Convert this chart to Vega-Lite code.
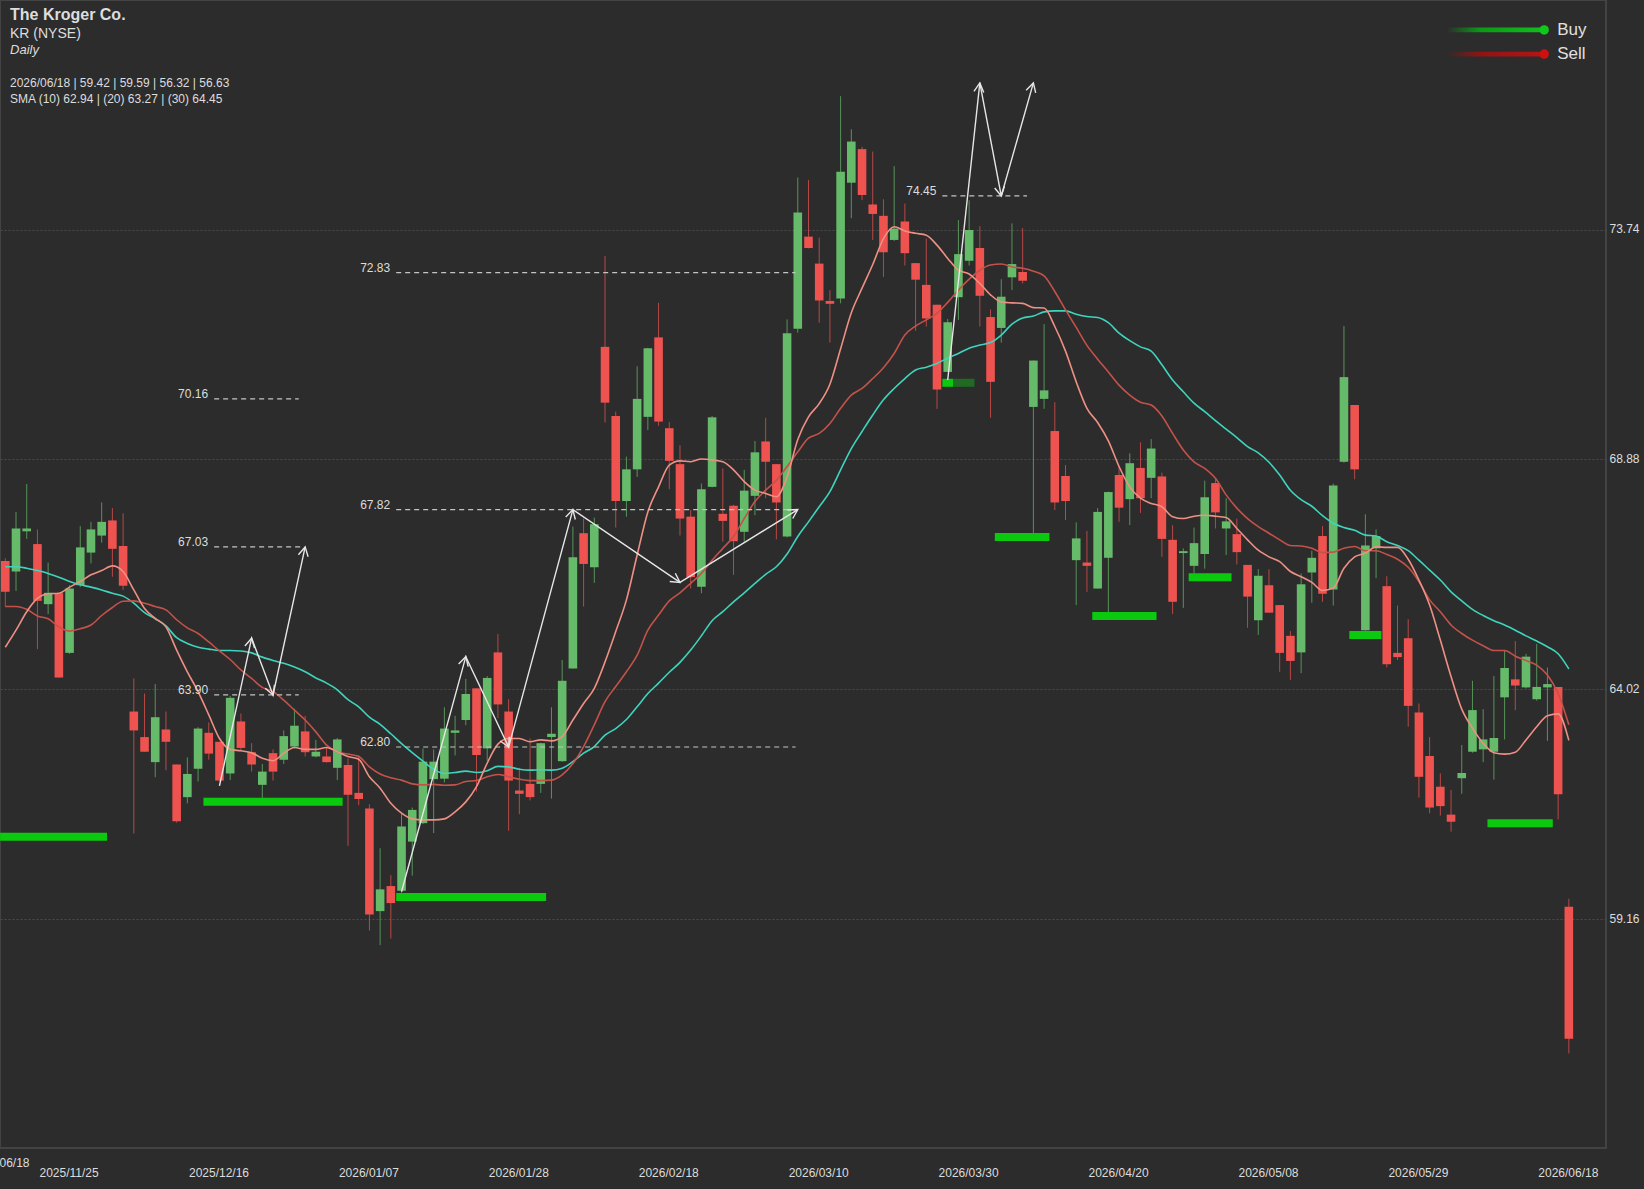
{"$schema":"https://vega.github.io/schema/vega-lite/v6.json","width":1606,"height":1148,"autosize":{"type":"none"},"padding":{"left":0,"top":0,"right":38,"bottom":41},"background":"#2c2c2c","resolve":{"axis":{"x":"independent","y":"independent"}},"config":{"font":"Liberation Sans","view":{"stroke":"#434343","strokeWidth":2},"text":{"font":"Liberation Sans"}},"datasets":{"candles":[
{"i":0,"dir":"down","open":66.73,"high":66.79,"low":65.77,"close":66.08,"sma10":64.91,"sma20":65.77,"sma30":66.61},
{"i":1,"dir":"up","open":66.51,"high":67.77,"low":66.10,"close":67.42,"sma10":65.27,"sma20":65.77,"sma30":66.61},
{"i":2,"dir":"up","open":67.36,"high":68.36,"low":67.20,"close":67.42,"sma10":65.66,"sma20":65.71,"sma30":66.58},
{"i":3,"dir":"down","open":67.09,"high":67.40,"low":64.87,"close":65.89,"sma10":65.94,"sma20":65.57,"sma30":66.53},
{"i":4,"dir":"up","open":65.82,"high":66.70,"low":65.61,"close":66.06,"sma10":66.04,"sma20":65.51,"sma30":66.47},
{"i":5,"dir":"down","open":66.05,"high":66.05,"low":64.27,"close":64.27,"sma10":66.05,"sma20":65.34,"sma30":66.39},
{"i":6,"dir":"up","open":64.79,"high":66.22,"low":64.77,"close":66.15,"sma10":66.18,"sma20":65.25,"sma30":66.30},
{"i":7,"dir":"up","open":66.22,"high":67.47,"low":66.18,"close":67.02,"sma10":66.30,"sma20":65.30,"sma30":66.23},
{"i":8,"dir":"up","open":66.91,"high":67.56,"low":66.68,"close":67.40,"sma10":66.44,"sma20":65.38,"sma30":66.18},
{"i":9,"dir":"up","open":67.27,"high":67.97,"low":67.12,"close":67.56,"sma10":66.53,"sma20":65.58,"sma30":66.12},
{"i":10,"dir":"down","open":67.59,"high":67.85,"low":66.40,"close":66.99,"sma10":66.63,"sma20":65.75,"sma30":66.05},
{"i":11,"dir":"down","open":67.05,"high":67.74,"low":66.12,"close":66.21,"sma10":66.51,"sma20":65.88,"sma30":65.99},
{"i":12,"dir":"down","open":63.55,"high":64.25,"low":60.97,"close":63.15,"sma10":66.12,"sma20":65.89,"sma30":65.84},
{"i":13,"dir":"down","open":63.01,"high":63.93,"low":62.70,"close":62.70,"sma10":65.73,"sma20":65.84,"sma30":65.64},
{"i":14,"dir":"up","open":62.48,"high":64.13,"low":62.16,"close":63.43,"sma10":65.52,"sma20":65.77,"sma30":65.51},
{"i":15,"dir":"down","open":63.17,"high":63.55,"low":62.31,"close":62.91,"sma10":65.34,"sma20":65.70,"sma30":65.36},
{"i":16,"dir":"down","open":62.43,"high":62.43,"low":61.20,"close":61.23,"sma10":64.85,"sma20":65.49,"sma30":65.11},
{"i":17,"dir":"up","open":61.74,"high":62.58,"low":61.61,"close":62.23,"sma10":64.39,"sma20":65.32,"sma30":64.99},
{"i":18,"dir":"up","open":62.34,"high":63.22,"low":62.07,"close":63.19,"sma10":63.97,"sma20":65.20,"sma30":64.91},
{"i":19,"dir":"down","open":63.10,"high":63.32,"low":62.53,"close":62.66,"sma10":63.48,"sma20":65.02,"sma30":64.87},
{"i":20,"dir":"down","open":62.91,"high":62.91,"low":62.07,"close":62.09,"sma10":62.98,"sma20":64.83,"sma30":64.84},
{"i":21,"dir":"up","open":62.24,"high":63.88,"low":62.10,"close":63.84,"sma10":62.75,"sma20":64.65,"sma30":64.84},
{"i":22,"dir":"down","open":63.34,"high":63.51,"low":62.72,"close":62.78,"sma10":62.72,"sma20":64.43,"sma30":64.83},
{"i":23,"dir":"down","open":62.69,"high":62.88,"low":62.28,"close":62.43,"sma10":62.68,"sma20":64.25,"sma30":64.79},
{"i":24,"dir":"up","open":62.00,"high":62.44,"low":61.71,"close":62.28,"sma10":62.56,"sma20":64.06,"sma30":64.70},
{"i":25,"dir":"down","open":62.67,"high":62.75,"low":62.09,"close":62.28,"sma10":62.51,"sma20":63.97,"sma30":64.63},
{"i":26,"dir":"up","open":62.53,"high":63.15,"low":62.44,"close":63.03,"sma10":62.67,"sma20":63.79,"sma30":64.57},
{"i":27,"dir":"up","open":62.81,"high":63.61,"low":62.77,"close":63.25,"sma10":62.79,"sma20":63.58,"sma30":64.49},
{"i":28,"dir":"down","open":63.13,"high":63.46,"low":62.60,"close":62.69,"sma10":62.75,"sma20":63.37,"sma30":64.39},
{"i":29,"dir":"up","open":62.60,"high":62.95,"low":62.58,"close":62.70,"sma10":62.75,"sma20":63.12,"sma30":64.26},
{"i":30,"dir":"down","open":62.60,"high":62.79,"low":62.47,"close":62.48,"sma10":62.79,"sma20":62.84,"sma30":64.15},
{"i":31,"dir":"up","open":62.36,"high":62.99,"low":62.10,"close":62.96,"sma10":62.70,"sma20":62.70,"sma30":64.01},
{"i":32,"dir":"down","open":62.42,"high":62.56,"low":60.71,"close":61.79,"sma10":62.60,"sma20":62.65,"sma30":63.80},
{"i":33,"dir":"down","open":61.83,"high":62.63,"low":61.57,"close":61.70,"sma10":62.54,"sma20":62.60,"sma30":63.65},
{"i":34,"dir":"down","open":61.50,"high":61.59,"low":58.92,"close":59.26,"sma10":62.17,"sma20":62.38,"sma30":63.43},
{"i":35,"dir":"up","open":59.33,"high":60.66,"low":58.61,"close":59.79,"sma10":61.93,"sma20":62.23,"sma30":63.28},
{"i":36,"dir":"down","open":59.86,"high":60.09,"low":58.75,"close":59.50,"sma10":61.61,"sma20":62.15,"sma30":63.08},
{"i":37,"dir":"up","open":59.76,"high":61.38,"low":59.72,"close":61.12,"sma10":61.40,"sma20":62.10,"sma30":62.87},
{"i":38,"dir":"up","open":60.80,"high":61.52,"low":60.08,"close":61.47,"sma10":61.28,"sma20":62.02,"sma30":62.68},
{"i":39,"dir":"up","open":61.19,"high":62.77,"low":61.17,"close":62.49,"sma10":61.26,"sma20":62.00,"sma30":62.50},
{"i":40,"dir":"up","open":62.12,"high":62.75,"low":60.98,"close":62.49,"sma10":61.26,"sma20":62.01,"sma30":62.33},
{"i":41,"dir":"up","open":62.13,"high":63.64,"low":62.05,"close":63.19,"sma10":61.28,"sma20":61.99,"sma30":62.24},
{"i":42,"dir":"up","open":63.10,"high":63.46,"low":62.62,"close":63.15,"sma10":61.43,"sma20":62.00,"sma30":62.26},
{"i":43,"dir":"up","open":63.37,"high":64.24,"low":63.26,"close":63.92,"sma10":61.64,"sma20":62.07,"sma30":62.29},
{"i":44,"dir":"down","open":64.04,"high":64.04,"low":61.86,"close":62.63,"sma10":61.96,"sma20":62.09,"sma30":62.26},
{"i":45,"dir":"up","open":62.77,"high":64.30,"low":62.51,"close":64.26,"sma10":62.46,"sma20":62.17,"sma30":62.30},
{"i":46,"dir":"down","open":64.80,"high":65.19,"low":63.41,"close":63.70,"sma10":62.86,"sma20":62.22,"sma30":62.39},
{"i":47,"dir":"down","open":63.55,"high":63.81,"low":61.03,"close":62.09,"sma10":62.98,"sma20":62.17,"sma30":62.38},
{"i":48,"dir":"down","open":61.88,"high":62.36,"low":61.38,"close":61.81,"sma10":62.98,"sma20":62.12,"sma30":62.33},
{"i":49,"dir":"down","open":62.02,"high":62.98,"low":61.67,"close":61.74,"sma10":62.91,"sma20":62.09,"sma30":62.31},
{"i":50,"dir":"up","open":62.02,"high":62.89,"low":61.83,"close":62.88,"sma10":62.95,"sma20":62.09,"sma30":62.32},
{"i":51,"dir":"up","open":63.01,"high":63.64,"low":61.71,"close":63.08,"sma10":62.93,"sma20":62.10,"sma30":62.31},
{"i":52,"dir":"up","open":62.50,"high":64.64,"low":62.49,"close":64.20,"sma10":63.02,"sma20":62.21,"sma30":62.35},
{"i":53,"dir":"up","open":64.46,"high":67.46,"low":64.46,"close":66.81,"sma10":63.37,"sma20":62.45,"sma30":62.49},
{"i":54,"dir":"down","open":67.32,"high":67.63,"low":65.77,"close":66.67,"sma10":63.72,"sma20":62.81,"sma30":62.67},
{"i":55,"dir":"up","open":66.60,"high":67.65,"low":66.27,"close":67.51,"sma10":64.04,"sma20":63.27,"sma30":62.81},
{"i":56,"dir":"down","open":71.26,"high":73.18,"low":69.66,"close":70.08,"sma10":64.60,"sma20":63.76,"sma30":63.05},
{"i":57,"dir":"down","open":69.80,"high":69.89,"low":67.44,"close":68.00,"sma10":65.24,"sma20":64.08,"sma30":63.19},
{"i":58,"dir":"up","open":68.00,"high":68.94,"low":67.67,"close":68.67,"sma10":65.91,"sma20":64.39,"sma30":63.38},
{"i":59,"dir":"up","open":68.67,"high":70.85,"low":68.51,"close":70.16,"sma10":66.86,"sma20":64.74,"sma30":63.65},
{"i":60,"dir":"up","open":69.78,"high":71.24,"low":69.50,"close":71.23,"sma10":67.77,"sma20":65.27,"sma30":63.93},
{"i":61,"dir":"down","open":71.46,"high":72.19,"low":69.59,"close":69.68,"sma10":68.30,"sma20":65.59,"sma30":64.15},
{"i":62,"dir":"down","open":69.54,"high":69.67,"low":68.25,"close":68.85,"sma10":68.76,"sma20":65.89,"sma30":64.38},
{"i":63,"dir":"down","open":68.78,"high":69.18,"low":67.27,"close":67.63,"sma10":68.85,"sma20":66.06,"sma30":64.59},
{"i":64,"dir":"down","open":67.67,"high":67.81,"low":66.15,"close":66.39,"sma10":68.83,"sma20":66.26,"sma30":64.85},
{"i":65,"dir":"up","open":66.19,"high":68.37,"low":66.05,"close":68.25,"sma10":68.89,"sma20":66.47,"sma30":65.15},
{"i":66,"dir":"up","open":68.30,"high":69.80,"low":68.29,"close":69.77,"sma10":68.87,"sma20":66.75,"sma30":65.47},
{"i":67,"dir":"down","open":67.73,"high":68.69,"low":67.14,"close":67.58,"sma10":68.83,"sma20":67.00,"sma30":65.66},
{"i":68,"dir":"down","open":67.90,"high":67.92,"low":66.44,"close":67.15,"sma10":68.66,"sma20":67.25,"sma30":65.87},
{"i":69,"dir":"up","open":67.35,"high":68.66,"low":67.14,"close":68.22,"sma10":68.41,"sma20":67.63,"sma30":66.06},
{"i":70,"dir":"up","open":68.11,"high":69.27,"low":67.70,"close":69.03,"sma10":68.23,"sma20":67.99,"sma30":66.26},
{"i":71,"dir":"down","open":69.26,"high":69.76,"low":68.06,"close":68.83,"sma10":68.16,"sma20":68.23,"sma30":66.45},
{"i":72,"dir":"down","open":68.78,"high":68.78,"low":67.19,"close":67.97,"sma10":68.09,"sma20":68.44,"sma30":66.61},
{"i":73,"dir":"up","open":67.25,"high":71.84,"low":67.23,"close":71.55,"sma10":68.51,"sma20":68.73,"sma30":66.88},
{"i":74,"dir":"up","open":71.64,"high":74.84,"low":71.56,"close":74.10,"sma10":69.30,"sma20":69.04,"sma30":67.25},
{"i":75,"dir":"down","open":73.59,"high":74.79,"low":73.34,"close":73.35,"sma10":69.78,"sma20":69.33,"sma30":67.56},
{"i":76,"dir":"down","open":73.02,"high":73.57,"low":71.77,"close":72.24,"sma10":70.06,"sma20":69.43,"sma30":67.88},
{"i":77,"dir":"down","open":72.23,"high":72.46,"low":71.35,"close":72.17,"sma10":70.47,"sma20":69.64,"sma30":68.20},
{"i":78,"dir":"up","open":72.28,"high":76.56,"low":72.18,"close":74.96,"sma10":71.22,"sma20":69.96,"sma30":68.66},
{"i":79,"dir":"up","open":74.73,"high":75.86,"low":73.98,"close":75.60,"sma10":71.98,"sma20":70.24,"sma30":69.11},
{"i":80,"dir":"down","open":75.44,"high":75.49,"low":74.36,"close":74.47,"sma10":72.50,"sma20":70.38,"sma30":69.47},
{"i":81,"dir":"down","open":74.27,"high":75.39,"low":73.52,"close":74.07,"sma10":73.00,"sma20":70.59,"sma30":69.82},
{"i":82,"dir":"down","open":74.03,"high":74.38,"low":72.74,"close":73.26,"sma10":73.55,"sma20":70.82,"sma30":70.14},
{"i":83,"dir":"up","open":73.52,"high":75.08,"low":73.50,"close":73.76,"sma10":73.80,"sma20":71.12,"sma30":70.38},
{"i":84,"dir":"down","open":73.91,"high":74.29,"low":72.98,"close":73.24,"sma10":73.71,"sma20":71.51,"sma30":70.59},
{"i":85,"dir":"down","open":73.03,"high":73.03,"low":71.60,"close":72.68,"sma10":73.66,"sma20":71.70,"sma30":70.77},
{"i":86,"dir":"down","open":72.57,"high":73.55,"low":71.69,"close":71.86,"sma10":73.62,"sma20":71.83,"sma30":70.83},
{"i":87,"dir":"down","open":72.15,"high":72.15,"low":69.95,"close":70.36,"sma10":73.41,"sma20":71.97,"sma30":70.91},
{"i":88,"dir":"up","open":70.73,"high":71.85,"low":70.73,"close":71.78,"sma10":73.13,"sma20":72.20,"sma30":71.02},
{"i":89,"dir":"up","open":72.31,"high":73.94,"low":71.83,"close":73.22,"sma10":72.88,"sma20":72.46,"sma30":71.12},
{"i":90,"dir":"up","open":73.08,"high":74.36,"low":72.98,"close":73.73,"sma10":72.80,"sma20":72.69,"sma30":71.23},
{"i":91,"dir":"down","open":73.35,"high":73.81,"low":71.69,"close":72.34,"sma10":72.60,"sma20":72.88,"sma30":71.30},
{"i":92,"dir":"down","open":71.89,"high":72.05,"low":69.76,"close":70.52,"sma10":72.36,"sma20":72.99,"sma30":71.35},
{"i":93,"dir":"up","open":71.66,"high":72.69,"low":71.35,"close":72.32,"sma10":72.21,"sma20":73.01,"sma30":71.51},
{"i":94,"dir":"up","open":72.73,"high":73.87,"low":72.46,"close":73.01,"sma10":72.19,"sma20":72.95,"sma30":71.74},
{"i":95,"dir":"down","open":72.84,"high":73.77,"low":72.60,"close":72.66,"sma10":72.18,"sma20":72.92,"sma30":71.87},
{"i":96,"dir":"up","open":69.99,"high":70.97,"low":67.32,"close":70.97,"sma10":72.09,"sma20":72.86,"sma30":71.91},
{"i":97,"dir":"up","open":70.16,"high":71.74,"low":69.95,"close":70.34,"sma10":72.08,"sma20":72.76,"sma30":72.00},
{"i":98,"dir":"down","open":69.48,"high":70.09,"low":67.81,"close":67.97,"sma10":71.69,"sma20":72.43,"sma30":72.02},
{"i":99,"dir":"down","open":68.53,"high":68.76,"low":67.60,"close":68.00,"sma10":71.17,"sma20":72.04,"sma30":72.02},
{"i":100,"dir":"up","open":66.75,"high":67.55,"low":65.80,"close":67.21,"sma10":70.52,"sma20":71.67,"sma30":71.95},
{"i":101,"dir":"down","open":66.70,"high":67.37,"low":66.08,"close":66.63,"sma10":69.96,"sma20":71.29,"sma30":71.90},
{"i":102,"dir":"up","open":66.15,"high":67.85,"low":66.15,"close":67.77,"sma10":69.66,"sma20":71.00,"sma30":71.88},
{"i":103,"dir":"up","open":66.80,"high":68.20,"low":65.65,"close":68.19,"sma10":69.27,"sma20":70.73,"sma30":71.77},
{"i":104,"dir":"down","open":68.55,"high":68.73,"low":67.56,"close":67.86,"sma10":68.73,"sma20":70.45,"sma30":71.55},
{"i":105,"dir":"up","open":68.04,"high":69.01,"low":67.49,"close":68.80,"sma10":68.30,"sma20":70.24,"sma30":71.39},
{"i":106,"dir":"down","open":68.70,"high":69.24,"low":67.75,"close":68.06,"sma10":68.06,"sma20":70.09,"sma30":71.26},
{"i":107,"dir":"up","open":68.49,"high":69.31,"low":68.06,"close":69.11,"sma10":67.95,"sma20":70.03,"sma30":71.17},
{"i":108,"dir":"down","open":68.52,"high":68.60,"low":66.82,"close":67.20,"sma10":67.88,"sma20":69.80,"sma30":70.88},
{"i":109,"dir":"down","open":67.18,"high":67.49,"low":65.61,"close":65.87,"sma10":67.67,"sma20":69.43,"sma30":70.56},
{"i":110,"dir":"up","open":66.90,"high":67.00,"low":65.74,"close":66.94,"sma10":67.63,"sma20":69.08,"sma30":70.31},
{"i":111,"dir":"up","open":66.63,"high":67.44,"low":66.47,"close":67.11,"sma10":67.68,"sma20":68.83,"sma30":70.07},
{"i":112,"dir":"up","open":66.88,"high":68.43,"low":66.57,"close":68.08,"sma10":67.70,"sma20":68.69,"sma30":69.89},
{"i":113,"dir":"down","open":68.38,"high":68.48,"low":67.42,"close":67.76,"sma10":67.68,"sma20":68.48,"sma30":69.70},
{"i":114,"dir":"up","open":67.42,"high":68.06,"low":66.86,"close":67.57,"sma10":67.65,"sma20":68.13,"sma30":69.52},
{"i":115,"dir":"down","open":67.30,"high":67.63,"low":66.66,"close":66.92,"sma10":67.42,"sma20":67.85,"sma30":69.34},
{"i":116,"dir":"down","open":66.65,"high":66.65,"low":65.32,"close":65.98,"sma10":67.18,"sma20":67.63,"sma30":69.15},
{"i":117,"dir":"up","open":65.48,"high":66.56,"low":65.17,"close":66.42,"sma10":66.96,"sma20":67.46,"sma30":69.02},
{"i":118,"dir":"down","open":66.22,"high":66.56,"low":65.64,"close":65.64,"sma10":66.82,"sma20":67.32,"sma30":68.82},
{"i":119,"dir":"down","open":65.80,"high":65.80,"low":64.39,"close":64.79,"sma10":66.72,"sma20":67.18,"sma30":68.55},
{"i":120,"dir":"down","open":65.15,"high":65.25,"low":64.22,"close":64.62,"sma10":66.51,"sma20":67.06,"sma30":68.23},
{"i":121,"dir":"up","open":64.80,"high":66.47,"low":64.36,"close":66.24,"sma10":66.40,"sma20":67.05,"sma30":68.03},
{"i":122,"dir":"up","open":66.49,"high":66.95,"low":65.85,"close":66.80,"sma10":66.28,"sma20":67.00,"sma30":67.89},
{"i":123,"dir":"down","open":67.26,"high":67.47,"low":65.87,"close":66.04,"sma10":66.11,"sma20":66.91,"sma30":67.69},
{"i":124,"dir":"up","open":66.13,"high":68.37,"low":65.79,"close":68.33,"sma10":66.16,"sma20":66.92,"sma30":67.53},
{"i":125,"dir":"up","open":68.83,"high":71.70,"low":68.81,"close":70.62,"sma10":66.58,"sma20":67.00,"sma30":67.44},
{"i":126,"dir":"down","open":70.03,"high":70.03,"low":68.46,"close":68.67,"sma10":66.82,"sma20":67.04,"sma30":67.38},
{"i":127,"dir":"up","open":65.27,"high":67.72,"low":65.26,"close":67.06,"sma10":66.90,"sma20":66.95,"sma30":67.28},
{"i":128,"dir":"up","open":67.00,"high":67.40,"low":66.37,"close":67.26,"sma10":67.03,"sma20":66.95,"sma30":67.26},
{"i":129,"dir":"down","open":66.20,"high":66.41,"low":64.48,"close":64.55,"sma10":67.02,"sma20":66.87,"sma30":67.14},
{"i":130,"dir":"down","open":64.79,"high":65.79,"low":64.64,"close":64.70,"sma10":67.02,"sma20":66.77,"sma30":67.06},
{"i":131,"dir":"down","open":65.10,"high":65.50,"low":63.23,"close":63.67,"sma10":66.77,"sma20":66.60,"sma30":66.95},
{"i":132,"dir":"down","open":63.53,"high":63.72,"low":61.73,"close":62.17,"sma10":66.33,"sma20":66.30,"sma30":66.75},
{"i":133,"dir":"down","open":62.61,"high":63.01,"low":61.40,"close":61.52,"sma10":65.80,"sma20":65.91,"sma30":66.54},
{"i":134,"dir":"down","open":61.96,"high":62.24,"low":61.35,"close":61.55,"sma10":65.06,"sma20":65.66,"sma30":66.33},
{"i":135,"dir":"down","open":61.37,"high":61.89,"low":61.01,"close":61.22,"sma10":64.29,"sma20":65.38,"sma30":66.08},
{"i":136,"dir":"up","open":62.14,"high":62.84,"low":61.81,"close":62.25,"sma10":63.60,"sma20":65.20,"sma30":65.89},
{"i":137,"dir":"up","open":62.70,"high":64.20,"low":62.68,"close":63.58,"sma10":63.20,"sma20":65.06,"sma30":65.71},
{"i":138,"dir":"up","open":62.75,"high":63.60,"low":62.48,"close":62.96,"sma10":62.88,"sma20":64.94,"sma30":65.58},
{"i":139,"dir":"up","open":62.70,"high":64.30,"low":62.11,"close":62.99,"sma10":62.68,"sma20":64.84,"sma30":65.47},
{"i":140,"dir":"up","open":63.85,"high":64.85,"low":62.96,"close":64.47,"sma10":62.65,"sma20":64.84,"sma30":65.38},
{"i":141,"dir":"down","open":64.23,"high":65.04,"low":63.58,"close":64.10,"sma10":62.69,"sma20":64.72,"sma30":65.27},
{"i":142,"dir":"up","open":64.06,"high":64.77,"low":64.04,"close":64.71,"sma10":62.95,"sma20":64.63,"sma30":65.15},
{"i":143,"dir":"up","open":63.81,"high":64.98,"low":63.78,"close":64.07,"sma10":63.23,"sma20":64.53,"sma30":65.04},
{"i":144,"dir":"up","open":64.06,"high":64.48,"low":62.93,"close":64.13,"sma10":63.46,"sma20":64.32,"sma30":64.92},
{"i":145,"dir":"down","open":64.07,"high":64.07,"low":61.27,"close":61.80,"sma10":63.50,"sma20":63.93,"sma30":64.77},
{"i":146,"dir":"down","open":59.42,"high":59.59,"low":56.32,"close":56.63,"sma10":62.94,"sma20":63.27,"sma30":64.45}
],
"zones":[
{"start":-0.49,"end":9.5,"price":60.90,"state":"full"},
{"start":18.5,"end":31.5,"price":61.64,"state":"full"},
{"start":36.5,"end":50.5,"price":59.63,"state":"full"},
{"start":87.5,"end":88.5,"price":70.50,"state":"full"},
{"start":88.5,"end":90.5,"price":70.50,"state":"faded"},
{"start":92.4,"end":97.5,"price":67.24,"state":"full"},
{"start":101.5,"end":107.5,"price":65.57,"state":"full"},
{"start":110.5,"end":114.5,"price":66.39,"state":"full"},
{"start":125.5,"end":128.5,"price":65.17,"state":"full"},
{"start":138.4,"end":144.5,"price":61.19,"state":"full"}],
"levels":[
{"start":19.5,"end":27.4,"price":70.16},
{"start":19.5,"end":27.7,"price":67.03},
{"start":19.5,"end":27.4,"price":63.90},
{"start":36.5,"end":73.8,"price":72.83},
{"start":36.5,"end":74.0,"price":67.82},
{"start":36.5,"end":73.8,"price":62.80},
{"start":87.5,"end":95.4,"price":74.45}],
"arrows":[
{"path":"A","n":0,"i":20,"price":61.98},
{"path":"A","n":1,"i":23,"price":65.10,"heading":12.3},
{"path":"A","n":2,"i":25,"price":63.90,"heading":159.4},
{"path":"A","n":3,"i":28,"price":67.03,"heading":12.2},
{"path":"B","n":0,"i":37,"price":59.74},
{"path":"B","n":1,"i":43,"price":64.71,"heading":15.3},
{"path":"B","n":2,"i":47,"price":62.80,"heading":154.6},
{"path":"B","n":3,"i":53,"price":67.82,"heading":15.2},
{"path":"B","n":4,"i":63,"price":66.28,"heading":124.2},
{"path":"B","n":5,"i":74,"price":67.82,"heading":58.3},
{"path":"C","n":0,"i":88,"price":70.56},
{"path":"C","n":1,"i":91,"price":76.84,"heading":6.2},
{"path":"C","n":2,"i":93,"price":74.45,"heading":169.3},
{"path":"C","n":3,"i":96,"price":76.84,"heading":15.9}],
"header":[
{"text":"The Kroger Co.","i":0.44,"price":78.27,"size":16,"kind":"bold"},
{"text":"KR (NYSE)","i":0.44,"price":77.87,"size":14,"kind":"plain"},
{"text":"Daily","i":0.44,"price":77.53,"size":13,"kind":"italic"},
{"text":"2026/06/18 | 59.42 | 59.59 | 56.32 | 56.63","i":0.44,"price":76.83,"size":12,"kind":"plain"},
{"text":"SMA (10) 62.94 | (20) 63.27 | (30) 64.45","i":0.44,"price":76.50,"size":12,"kind":"plain"}],
"keys":[
{"label":"Buy","from":134.6,"to":143.7,"price":77.96,"lo":77.91,"hi":78.01},
{"label":"Sell","from":134.6,"to":143.7,"price":77.45,"lo":77.40,"hi":77.50}]
},
"layer":[
{"data":{"name":"candles"},"mark":{"type":"rule","strokeWidth":1,"opacity":0.72},"encoding":{
"x":{"field":"i","type":"quantitative","scale":{"domain":[-0.495,149.47],"nice":false,"zero":false,"padding":0},"axis":{"values":[6,20,34,48,62,76,90,104,118,132,146],"labelExpr":"['2025/11/25','2025/12/16','2026/01/07','2026/01/28','2026/02/18','2026/03/10','2026/03/30','2026/04/20','2026/05/08','2026/05/29','2026/06/18'][(datum.value-6)/14]","title":null,"grid":false,"ticks":false,"domain":false,"labelColor":"#dddddd","labelFontSize":12,"labelPadding":19,"labelOffset":-1,"labelFont":"Liberation Sans","labelOverlap":false,"labelFlush":false}},
"y":{"field":"low","type":"quantitative","scale":{"domain":[54.322,78.593],"nice":false,"zero":false},"axis":{"orient":"right","values":[59.16,64.02,68.88,73.74],"format":".2f","title":null,"ticks":false,"domain":false,"grid":true,"gridColor":"#4c4c4c","gridDash":[2,2],"gridWidth":1,"labelColor":"#dddddd","labelFontSize":12,"labelPadding":3,"labelOffset":-1,"labelFont":"Liberation Sans"}},
"y2":{"field":"high"},
"color":{"field":"dir","type":"nominal","scale":{"domain":["up","down","full","faded","Buy","Sell"],"range":["#66bb6a","#ef5350","#0bc90f","#1f6b24","#10c81c","#d01010"]},"legend":null}}},
{"data":{"name":"candles"},"mark":{"type":"bar","width":8.6},"encoding":{
"x":{"field":"i","type":"quantitative","scale":{"domain":[-0.495,149.47],"nice":false,"zero":false,"padding":0},"axis":null},
"y":{"field":"open","type":"quantitative","scale":{"domain":[54.322,78.593],"nice":false,"zero":false},"axis":null},
"y2":{"field":"close"},
"color":{"field":"dir","type":"nominal","scale":{"domain":["up","down","full","faded","Buy","Sell"],"range":["#66bb6a","#ef5350","#0bc90f","#1f6b24","#10c81c","#d01010"]},"legend":null}}},
{"data":{"name":"candles"},"mark":{"type":"line","stroke":"#3fd4bd","strokeWidth":1.6,"interpolate":"monotone"},"encoding":{
"x":{"field":"i","type":"quantitative","scale":{"domain":[-0.495,149.47],"nice":false,"zero":false,"padding":0},"axis":null},
"y":{"field":"sma30","type":"quantitative","scale":{"domain":[54.322,78.593],"nice":false,"zero":false},"axis":null}}},
{"data":{"name":"candles"},"mark":{"type":"line","stroke":"#c4524a","strokeWidth":1.6,"interpolate":"monotone"},"encoding":{
"x":{"field":"i","type":"quantitative","scale":{"domain":[-0.495,149.47],"nice":false,"zero":false,"padding":0},"axis":null},
"y":{"field":"sma20","type":"quantitative","scale":{"domain":[54.322,78.593],"nice":false,"zero":false},"axis":null}}},
{"data":{"name":"candles"},"mark":{"type":"line","stroke":"#ef9084","strokeWidth":1.6,"interpolate":"monotone"},"encoding":{
"x":{"field":"i","type":"quantitative","scale":{"domain":[-0.495,149.47],"nice":false,"zero":false,"padding":0},"axis":null},
"y":{"field":"sma10","type":"quantitative","scale":{"domain":[54.322,78.593],"nice":false,"zero":false},"axis":null}}},
{"data":{"name":"zones"},"mark":{"type":"rule","strokeWidth":8},"encoding":{
"x":{"field":"start","type":"quantitative","scale":{"domain":[-0.495,149.47],"nice":false,"zero":false,"padding":0},"axis":null},
"x2":{"field":"end"},
"y":{"field":"price","type":"quantitative","scale":{"domain":[54.322,78.593],"nice":false,"zero":false},"axis":null},
"color":{"field":"state","type":"nominal","scale":{"domain":["up","down","full","faded","Buy","Sell"],"range":["#66bb6a","#ef5350","#0bc90f","#1f6b24","#10c81c","#d01010"]},"legend":null}}},
{"data":{"name":"levels"},"mark":{"type":"rule","strokeWidth":1.2,"strokeDash":[5,4],"stroke":"#c4c4c4"},"encoding":{
"x":{"field":"start","type":"quantitative","scale":{"domain":[-0.495,149.47],"nice":false,"zero":false,"padding":0},"axis":null},
"x2":{"field":"end"},
"y":{"field":"price","type":"quantitative","scale":{"domain":[54.322,78.593],"nice":false,"zero":false},"axis":null}}},
{"data":{"name":"levels"},"mark":{"type":"text","align":"right","baseline":"middle","dx":-6,"dy":-4.5,"fontSize":12,"color":"#dddddd"},"encoding":{
"x":{"field":"start","type":"quantitative","scale":{"domain":[-0.495,149.47],"nice":false,"zero":false,"padding":0},"axis":null},
"y":{"field":"price","type":"quantitative","scale":{"domain":[54.322,78.593],"nice":false,"zero":false},"axis":null},
"text":{"field":"price","type":"quantitative","format":".2f"}}},
{"data":{"name":"arrows"},"mark":{"type":"line","stroke":"#e6e6e6","strokeWidth":1.4},"encoding":{
"x":{"field":"i","type":"quantitative","scale":{"domain":[-0.495,149.47],"nice":false,"zero":false,"padding":0},"axis":null},
"y":{"field":"price","type":"quantitative","scale":{"domain":[54.322,78.593],"nice":false,"zero":false},"axis":null},
"detail":{"field":"path"},"order":{"field":"n"}}},
{"data":{"name":"arrows"},"transform":[{"filter":"isValid(datum.heading)"}],"mark":{"type":"point","shape":"M-0.55,1L0,0L0.55,1","filled":false,"stroke":"#e6e6e6","strokeWidth":1.4,"size":324,"opacity":1},"encoding":{
"x":{"field":"i","type":"quantitative","scale":{"domain":[-0.495,149.47],"nice":false,"zero":false,"padding":0},"axis":null},
"y":{"field":"price","type":"quantitative","scale":{"domain":[54.322,78.593],"nice":false,"zero":false},"axis":null},
"angle":{"field":"heading","type":"quantitative","scale":null}}},
{"data":{"name":"header"},"transform":[{"filter":"datum.kind==='plain'"}],"mark":{"type":"text","align":"left","baseline":"middle","color":"#dddddd"},"encoding":{
"x":{"field":"i","type":"quantitative","scale":{"domain":[-0.495,149.47],"nice":false,"zero":false,"padding":0},"axis":null},
"y":{"field":"price","type":"quantitative","scale":{"domain":[54.322,78.593],"nice":false,"zero":false},"axis":null},
"text":{"field":"text","type":"nominal"},
"size":{"field":"size","type":"quantitative","scale":null}}},
{"data":{"name":"header"},"transform":[{"filter":"datum.kind==='bold'"}],"mark":{"type":"text","align":"left","baseline":"middle","color":"#dddddd","fontWeight":"bold"},"encoding":{
"x":{"field":"i","type":"quantitative","scale":{"domain":[-0.495,149.47],"nice":false,"zero":false,"padding":0},"axis":null},
"y":{"field":"price","type":"quantitative","scale":{"domain":[54.322,78.593],"nice":false,"zero":false},"axis":null},
"text":{"field":"text","type":"nominal"},
"size":{"field":"size","type":"quantitative","scale":null}}},
{"data":{"name":"header"},"transform":[{"filter":"datum.kind==='italic'"}],"mark":{"type":"text","align":"left","baseline":"middle","color":"#dddddd","fontStyle":"italic"},"encoding":{
"x":{"field":"i","type":"quantitative","scale":{"domain":[-0.495,149.47],"nice":false,"zero":false,"padding":0},"axis":null},
"y":{"field":"price","type":"quantitative","scale":{"domain":[54.322,78.593],"nice":false,"zero":false},"axis":null},
"text":{"field":"text","type":"nominal"},
"size":{"field":"size","type":"quantitative","scale":null}}},
{"data":{"values":[{"label":"2026/06/18","i":-0.54,"price":54.01}]},"mark":{"type":"text","align":"center","baseline":"middle","fontSize":12,"color":"#dddddd"},"encoding":{
"x":{"field":"i","type":"quantitative","scale":{"domain":[-0.495,149.47],"nice":false,"zero":false,"padding":0},"axis":null},
"y":{"field":"price","type":"quantitative","scale":{"domain":[54.322,78.593],"nice":false,"zero":false},"axis":null},
"text":{"field":"label","type":"nominal"}}},
{"data":{"name":"keys"},"transform":[{"filter":"datum.label==='Buy'"}],"mark":{"type":"rect","fill":{"gradient":"linear","x1":0,"y1":0,"x2":1,"y2":0,"stops":[{"offset":0,"color":"#2c2c2c"},{"offset":0.35,"color":"#0c9a16"},{"offset":1,"color":"#10c01c"}]}},"encoding":{
"x":{"field":"from","type":"quantitative","scale":{"domain":[-0.495,149.47],"nice":false,"zero":false,"padding":0},"axis":null},
"x2":{"field":"to"},
"y":{"field":"lo","type":"quantitative","scale":{"domain":[54.322,78.593],"nice":false,"zero":false},"axis":null},
"y2":{"field":"hi"}}},
{"data":{"name":"keys"},"transform":[{"filter":"datum.label==='Sell'"}],"mark":{"type":"rect","fill":{"gradient":"linear","x1":0,"y1":0,"x2":1,"y2":0,"stops":[{"offset":0,"color":"#2c2c2c"},{"offset":0.35,"color":"#901414"},{"offset":1,"color":"#b81414"}]}},"encoding":{
"x":{"field":"from","type":"quantitative","scale":{"domain":[-0.495,149.47],"nice":false,"zero":false,"padding":0},"axis":null},
"x2":{"field":"to"},
"y":{"field":"lo","type":"quantitative","scale":{"domain":[54.322,78.593],"nice":false,"zero":false},"axis":null},
"y2":{"field":"hi"}}},
{"data":{"name":"keys"},"mark":{"type":"point","shape":"circle","filled":true,"size":88,"opacity":1},"encoding":{
"x":{"field":"to","type":"quantitative","scale":{"domain":[-0.495,149.47],"nice":false,"zero":false,"padding":0},"axis":null},
"y":{"field":"price","type":"quantitative","scale":{"domain":[54.322,78.593],"nice":false,"zero":false},"axis":null},
"color":{"field":"label","type":"nominal","scale":{"domain":["up","down","full","faded","Buy","Sell"],"range":["#66bb6a","#ef5350","#0bc90f","#1f6b24","#10c81c","#d01010"]},"legend":null}}},
{"data":{"name":"keys"},"mark":{"type":"text","align":"left","baseline":"middle","dx":13,"fontSize":17,"color":"#e0e0e0"},"encoding":{
"x":{"field":"to","type":"quantitative","scale":{"domain":[-0.495,149.47],"nice":false,"zero":false,"padding":0},"axis":null},
"y":{"field":"price","type":"quantitative","scale":{"domain":[54.322,78.593],"nice":false,"zero":false},"axis":null},
"text":{"field":"label","type":"nominal"}}}
]}
